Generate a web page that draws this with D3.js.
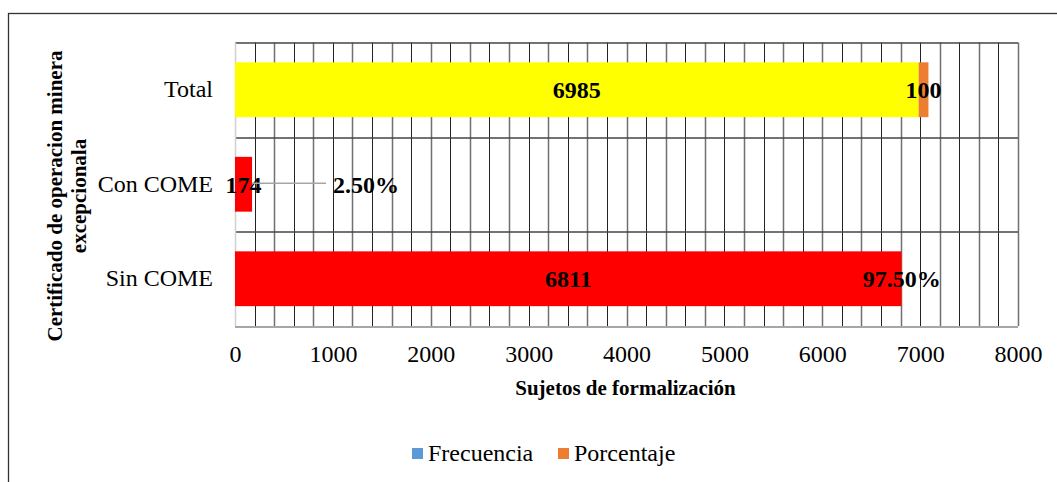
<!DOCTYPE html>
<html>
<head>
<meta charset="utf-8">
<script src="https://cdn.jsdelivr.net/npm/d3@7"></script>
<style>
  body { margin: 0; background: #fff; }
  text { font-family: "Liberation Serif", "Times New Roman", serif; fill: #000; }
</style>
</head>
<body>
<div id="svgcontainer"></div>
<script>
// data
let categories = ["Total", "Con COME", "Sin COME"];
let frecuencia = [6985, 174, 6811];
let porcentaje = [100, 0.025, 0.975];
let barColors = ["#ffff00", "#ff0000", "#ff0000"];
let xTicks = [0, 1000, 2000, 3000, 4000, 5000, 6000, 7000, 8000];
let seriesNames = ["Frecuencia", "Porcentaje"];
let seriesColors = ["#5b9bd5", "#ed7d31"];

let W = 1057, H = 482;
let margins = { top: 42.5, right: 39, bottom: 156, left: 235 };
let width = W - margins.left - margins.right;
let height = H - margins.top - margins.bottom;

let svg = d3.select("#svgcontainer")
    .append('svg')
    .attr('width', W)
    .attr('height', H);

// outer chart frame (runs off the right and bottom edges)
svg.append('rect')
    .attr('x', 8.5).attr('y', 13.5)
    .attr('width', W + 10).attr('height', H + 10)
    .attr('fill', 'none')
    .attr('stroke', '#333')
    .attr('stroke-width', 1.3);

let g = svg.append('g')
    .attr('transform', 'translate(' + margins.left + ',' + margins.top + ')');

var x = d3.scaleLinear()
    .domain([0, 8000])
    .range([0, width]);
var y = d3.scaleBand()
    .domain(categories)
    .range([0, height])
    .paddingInner(0.42)
    .paddingOuter(0.21);

// vertical gridlines every 200
let gridVals = d3.range(200, 8001, 200);
g.append('g')
    .attr('class', 'grid')
    .selectAll('line')
    .data(gridVals)
    .enter()
    .append('line')
    .attr('x1', d => Math.round(x(d)) + 0.5)
    .attr('x2', d => Math.round(x(d)) + 0.5)
    .attr('y1', 0)
    .attr('y2', height)
    .attr('stroke', (d, i) => i % 2 ? '#707070' : '#222')
    .attr('stroke-width', (d, i) => i % 2 ? 1.5 : 1);

// horizontal category boundaries
let bounds = d3.range(categories.length + 1).map(i => i * y.step());
g.append('g')
    .selectAll('line')
    .data(bounds)
    .enter()
    .append('line')
    .attr('x1', 0)
    .attr('x2', width)
    .attr('y1', d => Math.round(d) + 0.5)
    .attr('y2', d => Math.round(d) + 0.5)
    .attr('stroke', (d, i) => i === categories.length ? '#888' : '#444')
    .attr('stroke-width', 1.3);

// left axis line
g.append('line')
    .attr('x1', 0.5).attr('x2', 0.5)
    .attr('y1', 0).attr('y2', height)
    .attr('stroke', '#d0d0d0')
    .attr('stroke-width', 1.5);

// x axis labels
let xAxis = g.append('g')
    .attr('transform', 'translate(0,' + height + ')')
    .call(d3.axisBottom(x).tickValues(xTicks).tickFormat(d3.format('d')).tickSize(0).tickPadding(19));
xAxis.select('.domain').remove();
xAxis.selectAll('text')
    .style('font-family', '"Liberation Serif", serif')
    .style('font-size', '24px')
    .attr('fill', '#000');

// y axis labels
let yAxis = g.append('g')
    .call(d3.axisLeft(y).tickSize(0).tickPadding(22));
yAxis.select('.domain').remove();
yAxis.selectAll('text')
    .style('font-family', '"Liberation Serif", serif')
    .style('font-size', '24px')
    .attr('fill', '#000');

// bars: frecuencia then porcentaje stacked
let rows = categories.map((c, i) => ({ cat: c, f: frecuencia[i], p: porcentaje[i], color: barColors[i] }));
let bars = g.append('g').attr('class', 'bars');
bars.selectAll('.bar-f').data(rows)
    .enter()
    .append('rect')
    .attr('class', 'bar-f')
    .attr('x', x(0))
    .attr('y', d => y(d.cat))
    .attr('height', y.bandwidth())
    .attr('width', d => x(d.f) - x(0))
    .style('fill', d => d.color);
bars.selectAll('.bar-p').data(rows)
    .enter()
    .append('rect')
    .attr('class', 'bar-p')
    .attr('x', d => x(d.f))
    .attr('y', d => y(d.cat))
    .attr('height', y.bandwidth())
    .attr('width', d => x(d.f + d.p) - x(d.f))
    .style('fill', seriesColors[1]);

// labels
let fmtP = d => d < 1 ? d3.format('.2%')(d) : d3.format('d')(d);
let labels = g.append('g').attr('class', 'labels');
labels.selectAll('.lab-f').data(rows)
    .enter()
    .append('text')
    .attr('x', d => (x(0) + x(d.f)) / 2)
    .attr('y', d => y(d.cat) + y.bandwidth() / 2)
    .attr('dy', '0.35em')
    .attr('text-anchor', 'middle')
    .style('font-size', '24px')
    .style('font-weight', 700)
    .text(d => d.f);

rows.forEach(function (d) {
    let cx = x(d.f + d.p / 2);
    let cy = y(d.cat) + y.bandwidth() / 2;
    if (d.f < 1000) {
        // label moved out with a leader line
        g.append('line')
            .attr('x1', x(d.f + d.p)).attr('x2', x(d.f + d.p) + 74)
            .attr('y1', cy - 1).attr('y2', cy - 1)
            .attr('stroke', '#a6a6a6')
            .attr('stroke-width', 1.5);
        g.append('text')
            .attr('x', x(d.f + d.p) + 81)
            .attr('y', cy)
            .attr('dy', '0.35em')
            .style('font-size', '24px')
            .style('font-weight', 700)
            .text(fmtP(d.p));
    } else {
        g.append('text')
            .attr('x', cx)
            .attr('y', cy)
            .attr('dy', '0.35em')
            .attr('text-anchor', 'middle')
            .style('font-size', '24px')
            .style('font-weight', 700)
            .text(fmtP(d.p));
    }
});

// axis titles
svg.append('text')
    .attr('x', margins.left + width / 2 - 1)
    .attr('y', 395)
    .attr('text-anchor', 'middle')
    .style('font-size', '21px')
    .style('font-weight', 700)
    .text('Sujetos de formalización');

let yt = svg.append('text')
    .attr('transform', 'translate(62,196) rotate(-90)')
    .attr('text-anchor', 'middle')
    .style('font-size', '21px')
    .style('font-weight', 700);
yt.append('tspan').attr('x', 0).attr('dy', 0).text('Certificado de operacion minera');
yt.append('tspan').attr('x', 0).attr('dy', '1.15em').text('excepcionala');

// legend
let legend = svg.append('g').attr('transform', 'translate(412,448)');
let lx = [0, 146];
seriesNames.forEach(function (name, i) {
    legend.append('rect')
        .attr('x', lx[i]).attr('y', 0)
        .attr('width', 11).attr('height', 11)
        .style('fill', seriesColors[i]);
    legend.append('text')
        .attr('x', lx[i] + 16)
        .attr('y', 13)
        .style('font-size', '24px')
        .text(name);
});
</script>
</body>
</html>
